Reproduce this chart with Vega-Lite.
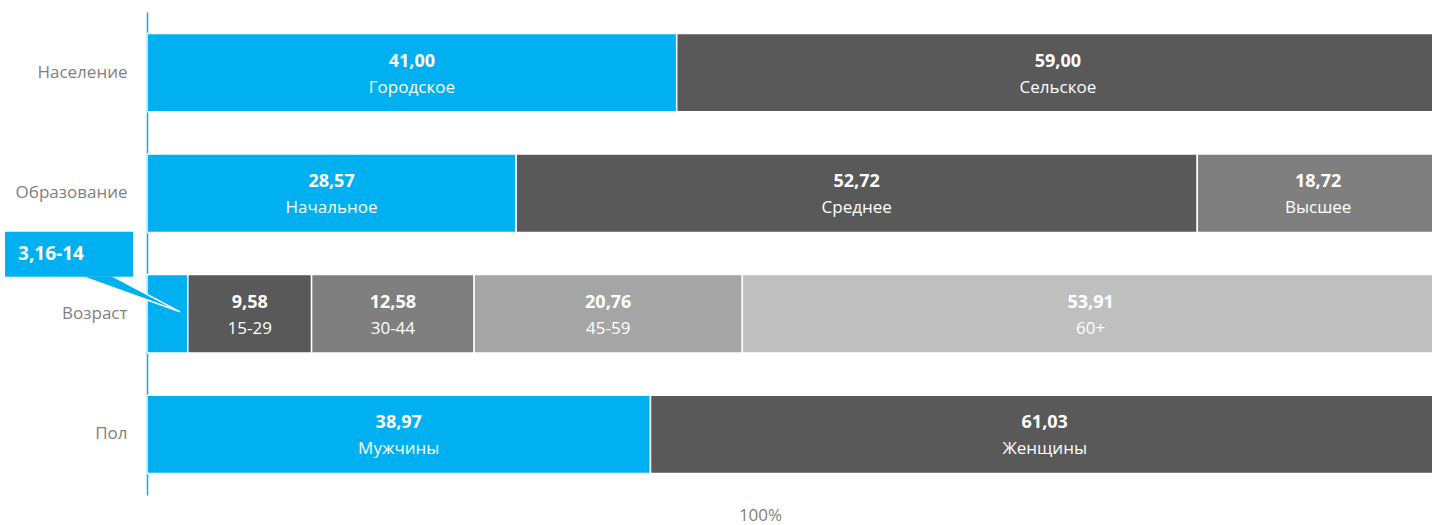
{
  "$schema": "https://vega.github.io/schema/vega-lite/v6.json",
  "autosize": {"type": "none"},
  "padding": {"left": 147, "top": 12, "right": 0, "bottom": 30},
  "width": 1285,
  "height": 483,
  "background": "white",
  "config": {"view": {"stroke": null}, "font": "Open Sans"},
  "data": {
    "values": [
      {"group": "Население", "category": "Городское", "value": 41.00, "order": 1},
      {"group": "Население", "category": "Сельское", "value": 59.00, "order": 2},
      {"group": "Образование", "category": "Начальное", "value": 28.57, "order": 1},
      {"group": "Образование", "category": "Среднее", "value": 52.72, "order": 2},
      {"group": "Образование", "category": "Высшее", "value": 18.72, "order": 3},
      {"group": "Возраст", "category": "0-14", "value": 3.16, "order": 1},
      {"group": "Возраст", "category": "15-29", "value": 9.58, "order": 2},
      {"group": "Возраст", "category": "30-44", "value": 12.58, "order": 3},
      {"group": "Возраст", "category": "45-59", "value": 20.76, "order": 4},
      {"group": "Возраст", "category": "60+", "value": 53.91, "order": 5},
      {"group": "Пол", "category": "Мужчины", "value": 38.97, "order": 1},
      {"group": "Пол", "category": "Женщины", "value": 61.03, "order": 2}
    ]
  },
  "transform": [
    {"stack": "value", "groupby": ["group"], "sort": [{"field": "order"}], "as": ["x0", "x1"]},
    {"calculate": "(datum.x0 + datum.x1) / 2", "as": "mid"},
    {"calculate": "replace(format(datum.value, '.2f'), '.', ',')", "as": "vlabel"}
  ],
  "encoding": {
    "y": {
      "field": "group",
      "type": "nominal",
      "sort": ["Население", "Образование", "Возраст", "Пол"],
      "scale": {"paddingInner": 0.35, "paddingOuter": 0.1775},
      "axis": {
        "title": null,
        "ticks": false,
        "domainColor": "#00B0F0",
        "domainWidth": 1.5,
        "labelColor": "#7f7f7f",
        "labelFontSize": 17,
        "labelPadding": 20,
        "labelFont": "Open Sans"
      }
    }
  },
  "layer": [
    {
      "mark": {"type": "bar", "stroke": "white", "strokeWidth": 1.5, "clip": true},
      "encoding": {
        "x": {
          "field": "x0",
          "type": "quantitative",
          "scale": {"domain": [0, 99.46], "nice": false, "zero": true},
          "axis": {
            "title": "100%",
            "labels": false,
            "ticks": false,
            "domain": false,
            "grid": false,
            "titleColor": "#7f7f7f",
            "titleFontSize": 17,
            "titleFontWeight": "normal",
            "titleFont": "Open Sans",
            "titleX": 613,
            "titleY": 20,
            "titleBaseline": "middle"
          }
        },
        "x2": {"field": "x1"},
        "color": {
          "field": "category",
          "type": "nominal",
          "legend": null,
          "scale": {
            "domain": ["Городское", "Сельское", "Начальное", "Среднее", "Высшее", "0-14", "15-29", "30-44", "45-59", "60+", "Мужчины", "Женщины"],
            "range": ["#00B0F0", "#595959", "#00B0F0", "#595959", "#7f7f7f", "#00B0F0", "#595959", "#7f7f7f", "#a5a5a5", "#bfbfbf", "#00B0F0", "#595959"]
          }
        }
      }
    },
    {
      "transform": [{"filter": "datum.category !== '0-14'"}],
      "mark": {"type": "text", "color": "white", "fontSize": 18, "fontWeight": "bold", "dy": -11, "font": "Open Sans"},
      "encoding": {
        "x": {"field": "mid", "type": "quantitative"},
        "text": {"field": "vlabel"}
      }
    },
    {
      "transform": [{"filter": "datum.category !== '0-14'"}],
      "mark": {"type": "text", "color": "white", "fontSize": 17, "dy": 15, "font": "Open Sans"},
      "encoding": {
        "x": {"field": "mid", "type": "quantitative"},
        "text": {"field": "category"}
      }
    },
    {
      "transform": [{"filter": "datum.category === '0-14'"}],
      "mark": {"type": "point", "filled": true, "opacity": 1, "color": "#00B0F0", "stroke": "white", "strokeWidth": 1.5, "size": 10000, "shape": "M-1,-0.36L-0.36,-0.36L1,0.36Z", "yOffset": -20},
      "encoding": {
        "x": {"datum": -1.316}
      }
    },
    {
      "transform": [{"filter": "datum.category === '0-14'"}],
      "mark": {"type": "bar", "color": "#00B0F0", "height": 45, "yOffset": -59.5},
      "encoding": {
        "x": {"datum": -10.99},
        "x2": {"datum": -1.08}
      }
    },
    {
      "transform": [{"filter": "datum.category === '0-14'"}],
      "mark": {"type": "text", "color": "white", "fontSize": 19, "fontWeight": "bold", "align": "left", "yOffset": -60, "font": "Open Sans"},
      "encoding": {
        "x": {"datum": -9.98},
        "text": {"value": "3,16-14"}
      }
    }
  ]
}
